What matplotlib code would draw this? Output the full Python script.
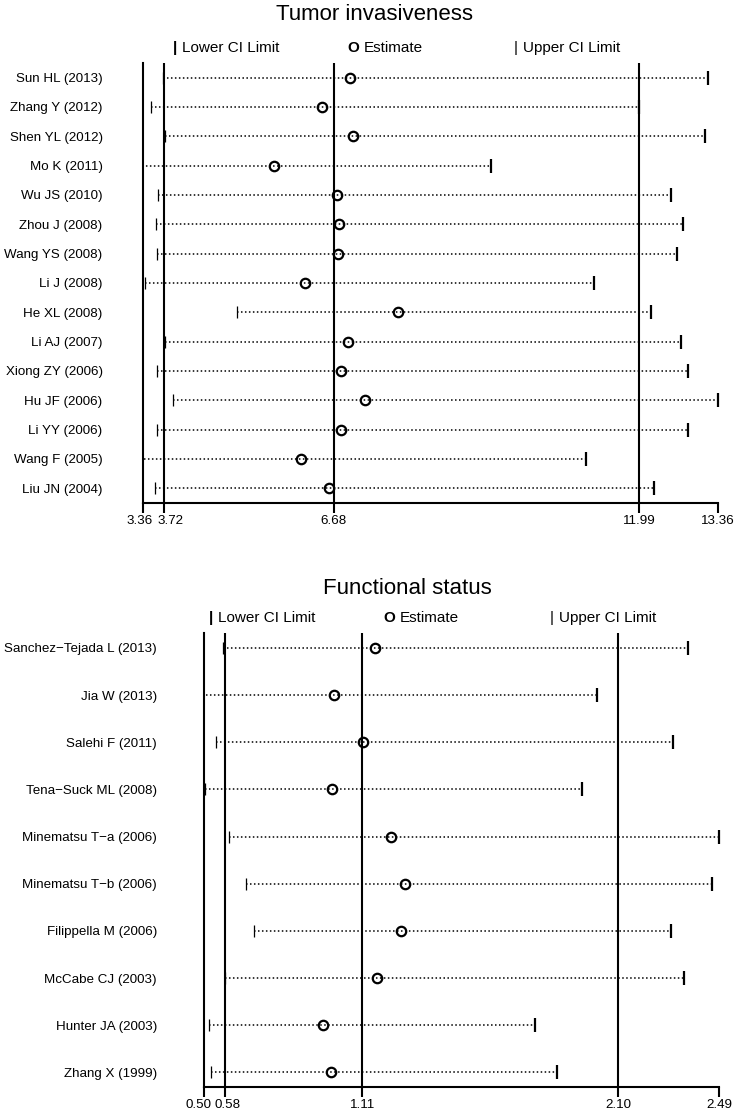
import numpy as np
import matplotlib
matplotlib.use("Agg")
from matplotlib import pyplot as plt
from matplotlib import transforms

plt.rcParams['font.family'] = ['Liberation Sans', 'DejaVu Sans']

# Tumor invasiveness panel
top_studies = ["Sun HL (2013)", "Zhang Y (2012)", "Shen YL (2012)", "Mo K (2011)",
               "Wu JS (2010)", "Zhou J (2008)", "Wang YS (2008)", "Li J (2008)",
               "He XL (2008)", "Li AJ (2007)", "Xiong ZY (2006)", "Hu JF (2006)",
               "Li YY (2006)", "Wang F (2005)", "Liu JN (2004)"]
top_lower = [3.70, 3.50, 3.75, 3.20, 3.62, 3.59, 3.60, 3.40, 5.00, 3.75, 3.60, 3.89, 3.60, 3.30, 3.56]
top_est = [6.96, 6.47, 7.02, 5.64, 6.74, 6.77, 6.75, 6.17, 7.80, 6.93, 6.80, 7.22, 6.80, 6.11, 6.59]
top_upper = [13.19, 11.99, 13.13, 9.41, 12.54, 12.76, 12.65, 11.20, 12.19, 12.72, 12.84, 13.36, 12.84, 11.06, 12.24]
top_ticks = [3.36, 3.72, 6.68, 11.99, 13.36]
top_refs = [3.72, 6.68, 11.99]

# Functional status panel
bot_studies = ["Sanchez\u2212Tejada L (2013)", "Jia W (2013)", "Salehi F (2011)",
               "Tena\u2212Suck ML (2008)", "Minematsu T\u2212a (2006)", "Minematsu T\u2212b (2006)",
               "Filippella M (2006)", "McCabe CJ (2003)", "Hunter JA (2003)", "Zhang X (1999)"]
bot_lower = [0.571, 0.49, 0.544, 0.503, 0.597, 0.661, 0.692, 0.579, 0.517, 0.526]
bot_est = [1.160, 1.002, 1.114, 0.992, 1.220, 1.276, 1.260, 1.166, 0.957, 0.990]
bot_upper = [2.368, 2.016, 2.310, 1.959, 2.49, 2.461, 2.303, 2.355, 1.778, 1.864]
bot_ticks = [0.50, 0.58, 1.11, 2.10, 2.49]
bot_refs = [0.58, 1.11, 2.10]

W, H = 738, 1117
fig = plt.figure(figsize=(W / 100, H / 100), dpi=100)


def px_axes(left, right, top, bottom):
    return fig.add_axes([left / W, 1 - bottom / H, (right - left) / W, (bottom - top) / H])


def draw_panel(ax, studies, lower, est, upper, ticks, refs, margin, label_pad, nudges):
    n = len(studies)
    y = np.arange(n)
    lo, hi = ticks[0], ticks[-1]
    ax.set_xlim(lo, hi)
    ax.set_ylim(n - 1 + margin, -margin)

    for r in refs:
        ax.axvline(r, color='black', lw=1.5, zorder=1)

    for i in range(n):
        ax.plot([lower[i], upper[i]], [y[i], y[i]], ls=(0, (1, 1.6)), color='black', lw=1.1, zorder=2)
        if lo <= lower[i] <= hi:
            ax.plot(lower[i], y[i], marker='|', ms=8.5, mew=0.9, color='black', clip_on=False, zorder=3)
        if lo <= upper[i] <= hi:
            ax.plot(upper[i], y[i], marker='|', ms=9.5, mew=1.6, color='black', clip_on=False, zorder=3)
    ax.plot(est, y, ls='none', marker='o', ms=6.8, mew=1.6, mfc='none', mec='black', zorder=4)

    for side in ['top', 'right']:
        ax.spines[side].set_visible(False)
    for side in ['left', 'bottom']:
        ax.spines[side].set_linewidth(1.5)

    ax.set_yticks(y)
    ax.set_yticklabels(studies, fontsize=9.6)
    ax.tick_params(axis='y', length=0, pad=label_pad)
    ax.set_xticks(ticks)
    ax.set_xticklabels(["%.2f" % t for t in ticks], fontsize=9.6)
    ax.tick_params(axis='x', length=7, width=1.5, pad=1.5)
    for label, dx in zip(ax.get_xticklabels(), nudges):
        label.set_transform(label.get_transform() +
                            transforms.ScaledTranslation(dx / 100, 0, fig.dpi_scale_trans))


def legend_row(y, lower_x, est_x, upper_x):
    yf = 1 - y / H
    fig.text(lower_x / W, yf, "|", fontsize=11, fontweight='bold', ha='center', va='center')
    fig.text((lower_x + 7) / W, yf, "Lower CI Limit", fontsize=11, va='center')
    fig.text(est_x / W, yf, "O", fontsize=11, fontweight='bold', ha='center', va='center')
    fig.text((est_x + 11) / W, yf, "Estimate", fontsize=11, va='center')
    fig.text(upper_x / W, yf, "|", fontsize=11, ha='center', va='center')
    fig.text((upper_x + 7) / W, yf, "Upper CI Limit", fontsize=11, va='center')


ax1 = px_axes(143, 718, 63, 503)
draw_panel(ax1, top_studies, top_lower, top_est, top_upper, top_ticks, top_refs,
           0.5, 29, [-3, 7, 0, 0, 0])
fig.text(374 / W, 1 - 15 / H, "Tumor invasiveness", fontsize=16, ha='center', va='center')
legend_row(48, 175, 353, 516)

ax2 = px_axes(204.3, 719.3, 633, 1087.3)
draw_panel(ax2, bot_studies, bot_lower, bot_est, bot_upper, bot_ticks, bot_refs,
           0.318, 34, [-6, 3, 0, 0, 0])
fig.text(407 / W, 1 - 589 / H, "Functional status", fontsize=16, ha='center', va='center')
legend_row(618, 211, 389, 552)

fig.savefig("out.png", dpi=100, facecolor='white')
